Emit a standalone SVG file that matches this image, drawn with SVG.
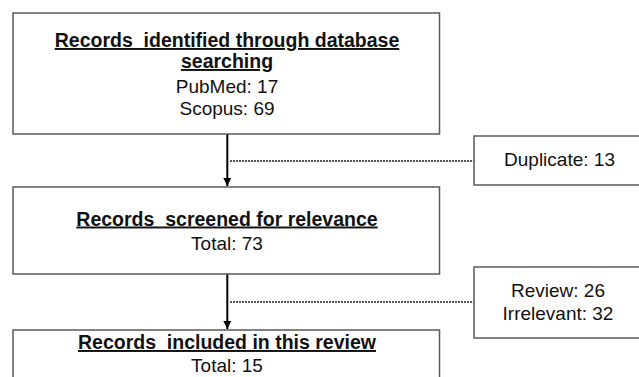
<svg xmlns="http://www.w3.org/2000/svg" width="639" height="377" viewBox="0 0 639 377">
<defs>
<style>
.box{fill:#fff;stroke:#5a5a5a;stroke-width:1.5}
.t{font-family:"Liberation Sans",Arial,sans-serif;font-size:19px;fill:#111;text-anchor:middle}
.b{font-weight:bold;font-size:19.5px;text-decoration:underline;white-space:pre}
.arr{stroke:#000;stroke-width:2;fill:none;marker-end:url(#ah)}
.dot{stroke:#222;stroke-width:1.6;stroke-dasharray:2 1;fill:none}
</style>
<marker id="ah" viewBox="0 0 10 10" refX="10" refY="5" markerWidth="4" markerHeight="4" orient="auto" markerUnits="strokeWidth">
<path d="M0,0 L10,5 L0,10 z" fill="#000"/>
</marker>
</defs>
<rect width="639" height="377" fill="#fff"/>
<g id="connectors">
<line class="arr" x1="227.3" y1="134" x2="227.3" y2="186"/>
<line class="arr" x1="227.3" y1="274" x2="227.3" y2="329"/>
<line class="dot" x1="230" y1="161" x2="474" y2="161"/>
<line class="dot" x1="230" y1="302" x2="474" y2="302"/>
</g>
<g id="identified">
<rect class="box" x="13" y="13" width="426.5" height="121"/>
<text class="t b" x="227" y="47">Records  identified through database</text>
<text class="t b" x="227" y="68">searching</text>
<text class="t" x="227" y="92.5">PubMed: 17</text>
<text class="t" x="227" y="115">Scopus: 69</text>
</g>
<g id="screened">
<rect class="box" x="13" y="187" width="426.5" height="87"/>
<text class="t b" x="227" y="225.5">Records  screened for relevance</text>
<text class="t" x="227" y="250">Total: 73</text>
</g>
<g id="included">
<rect class="box" x="13" y="330" width="426.5" height="70"/>
<text class="t b" x="227" y="349">Records  included in this review</text>
<text class="t" x="227" y="371.5">Total: 15</text>
</g>
<g id="duplicate">
<rect class="box" x="474" y="136" width="180" height="49"/>
<text class="t" x="559.5" y="165.5">Duplicate: 13</text>
</g>
<g id="excluded">
<rect class="box" x="474" y="267" width="180" height="71"/>
<text class="t" x="558" y="297.3">Review: 26</text>
<text class="t" x="558" y="320">Irrelevant: 32</text>
</g>
</svg>
